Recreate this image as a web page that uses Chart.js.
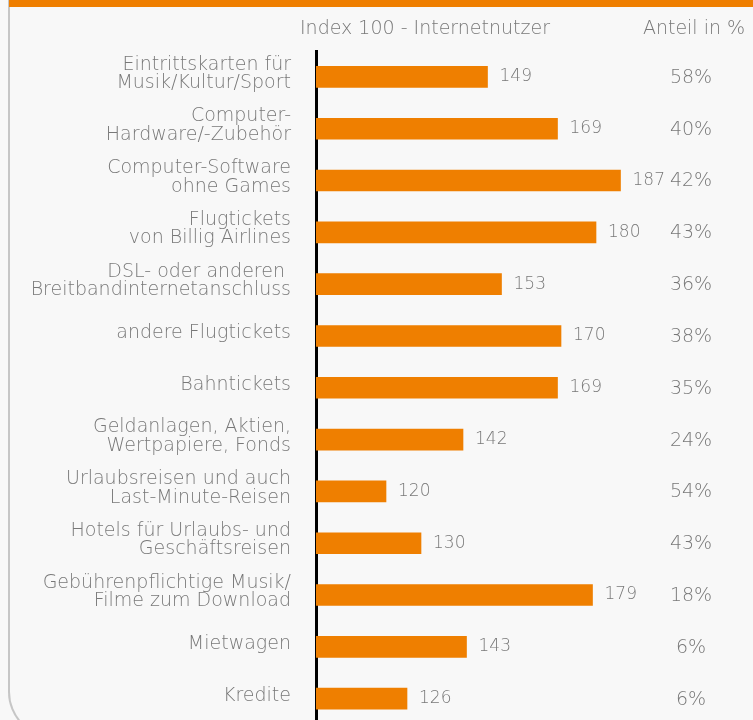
<!DOCTYPE html>
<html>
<head>
<meta charset="utf-8">
<script src="https://cdn.jsdelivr.net/npm/chart.js@4.4.1/dist/chart.umd.min.js"></script>
<style>
  html, body { margin: 0; padding: 0; background: #f8f8f8; overflow: hidden; }
  #wrap { position: relative; width: 753px; height: 720px; overflow: hidden; }
  #frame {
    position: absolute; left: 8px; top: 0; width: 800px; height: 738px;
    border-left: 2px solid #c6c6c6; border-bottom: 2px solid #c6c6c6;
    border-bottom-left-radius: 46px; box-sizing: border-box;
  }
  #band { position: absolute; left: 9px; top: 0; width: 744px; height: 7px; background: #ef7f00; }
  #cv { position: absolute; left: 0; top: 0; }
</style>
</head>
<body>
<div id="wrap">
  <div id="frame"></div>
  <div id="band"></div>
  <canvas id="cv" width="753" height="760"></canvas>
</div>
<script>
// --- Daten ---
const categories = [
    ['Eintrittskarten für', 'Musik/Kultur/Sport'],
    ['Computer-', 'Hardware/-Zubehör'],
    ['Computer-Software', 'ohne Games'],
    ['Flugtickets', 'von Billig Airlines'],
    ['DSL- oder anderen ', 'Breitbandinternetanschluss'],
    'andere Flugtickets',
    'Bahntickets',
    ['Geldanlagen, Aktien,', 'Wertpapiere, Fonds'],
    ['Urlaubsreisen und auch', 'Last-Minute-Reisen'],
    ['Hotels für Urlaubs- und', 'Geschäftsreisen'],
    ['Gebührenpflichtige Musik/', 'Filme zum Download'],
    'Mietwagen',
    'Kredite'
];
const indexValues = [149, 169, 187, 180, 153, 170, 169, 142, 120, 130, 179, 143, 126];
const shareValues = [58, 40, 42, 43, 36, 38, 35, 24, 54, 43, 18, 6, 6];

const FONT = '"DejaVu Sans", sans-serif';
const GREY = '#787878';
const ORANGE = '#ef7f00';

// Werte, Anteile und Überschriften zeichnen
const labelsPlugin = {
    id: 'labels',
    afterDatasetsDraw(chart) {
        const ctx = chart.ctx;
        const meta = chart.getDatasetMeta(0);
        ctx.save();
        ctx.fillStyle = GREY;
        ctx.textBaseline = 'middle';
        meta.data.forEach((bar, i) => {
            ctx.font = `200 17px ${FONT}`;
            ctx.textAlign = 'left';
            ctx.fillText(String(indexValues[i]), bar.x + 12, bar.y);
            ctx.font = `200 19px ${FONT}`;
            ctx.textAlign = 'center';
            ctx.fillText(shareValues[i] + '%', 691, bar.y + 1);
        });
        ctx.font = `200 19px ${FONT}`;
        ctx.textAlign = 'center';
        ctx.fillText('Index 100 - Internetnutzer', 425, 29);
        ctx.fillText('Anteil in %', 694, 29);
        ctx.restore();
    }
};

new Chart(document.getElementById('cv').getContext('2d'), {
    type: 'bar',
    data: {
        labels: categories,
        datasets: [{
            data: indexValues,
            backgroundColor: ORANGE,
            barThickness: 21
        }]
    },
    options: {
        indexAxis: 'y',
        responsive: false,
        maintainAspectRatio: false,
        animation: false,
        layout: { padding: { left: 0, right: 87, top: 51, bottom: 17 } },
        plugins: { legend: { display: false }, tooltip: { enabled: false } },
        scales: {
            x: { min: 100, max: 200, display: false },
            y: {
                afterFit(scale) { scale.width = 316; },
                grid: { display: false },
                border: { display: true, color: '#000', width: 3 },
                ticks: {
                    color: GREY,
                    font: { family: FONT, size: 19, weight: 200, lineHeight: 0.97 },
                    padding: 17,
                    labelOffset: -3,
                    autoSkip: false
                }
            }
        }
    },
    plugins: [labelsPlugin]
});
</script>
</body>
</html>
